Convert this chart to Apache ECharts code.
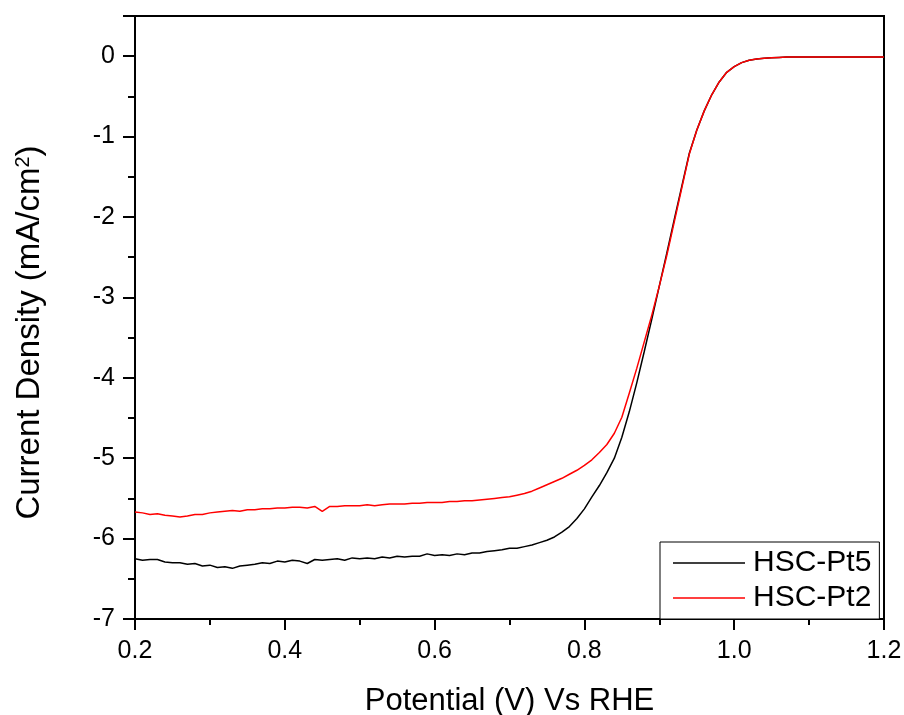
<!DOCTYPE html>
<html>
<head>
<meta charset="utf-8">
<script src="https://cdn.jsdelivr.net/npm/echarts@6/dist/echarts.min.js"></script>
<style>
  html, body { margin: 0; padding: 0; background: #fff; }
  #lsv { width: 904px; height: 715px; }
</style>
</head>
<body>
<div id="lsv"></div>
<script>
// potential (V vs RHE)
var potential = [
    0.20, 0.21, 0.22, 0.23, 0.24, 0.25, 0.26, 0.27, 0.28, 0.29,
    0.30, 0.31, 0.32, 0.33, 0.34, 0.35, 0.36, 0.37, 0.38, 0.39,
    0.40, 0.41, 0.42, 0.43, 0.44, 0.45, 0.46, 0.47, 0.48, 0.49,
    0.50, 0.51, 0.52, 0.53, 0.54, 0.55, 0.56, 0.57, 0.58, 0.59,
    0.60, 0.61, 0.62, 0.63, 0.64, 0.65, 0.66, 0.67, 0.68, 0.69,
    0.70, 0.71, 0.72, 0.73, 0.74, 0.75, 0.76, 0.77, 0.78, 0.79,
    0.80, 0.81, 0.82, 0.83, 0.84, 0.85, 0.86, 0.87, 0.88, 0.89,
    0.90, 0.91, 0.92, 0.93, 0.94, 0.95, 0.96, 0.97, 0.98, 0.99,
    1.00, 1.01, 1.02, 1.03, 1.04, 1.05, 1.06, 1.07, 1.08, 1.09,
    1.10, 1.11, 1.12, 1.13, 1.14, 1.15, 1.16, 1.17, 1.18, 1.19,
    1.20
];

// current density (mA/cm2)
var pt5 = [
    -6.25, -6.27, -6.26, -6.26, -6.29, -6.30, -6.30, -6.32, -6.31, -6.34,
    -6.33, -6.36, -6.35, -6.37, -6.34, -6.33, -6.32, -6.30, -6.31, -6.28,
    -6.29, -6.27, -6.28, -6.31, -6.26, -6.27, -6.26, -6.25, -6.27, -6.24,
    -6.25, -6.24, -6.25, -6.23, -6.24, -6.22, -6.23, -6.22, -6.22, -6.19,
    -6.21, -6.20, -6.21, -6.19, -6.20, -6.18, -6.18, -6.16, -6.15, -6.14,
    -6.12, -6.12, -6.10, -6.08, -6.05, -6.02, -5.98, -5.92, -5.85, -5.75,
    -5.63, -5.48, -5.34, -5.18, -5.00, -4.74, -4.42, -4.06, -3.67, -3.27,
    -2.86, -2.45, -2.03, -1.62, -1.21, -0.92, -0.68, -0.48, -0.32, -0.20,
    -0.13, -0.08, -0.05, -0.035, -0.025, -0.02, -0.015, -0.01, -0.01, -0.01,
    -0.01, -0.01, -0.01, -0.01, -0.01, -0.01, -0.01, -0.01, -0.01, -0.01,
    -0.01
];

var pt2 = [
    -5.67, -5.68, -5.70, -5.69, -5.71, -5.72, -5.73, -5.72, -5.70, -5.70,
    -5.68, -5.67, -5.66, -5.65, -5.66, -5.64, -5.64, -5.63, -5.63, -5.62,
    -5.62, -5.61, -5.61, -5.62, -5.60, -5.66, -5.60, -5.60, -5.59, -5.59,
    -5.59, -5.58, -5.59, -5.58, -5.57, -5.57, -5.57, -5.56, -5.56, -5.55,
    -5.55, -5.55, -5.54, -5.54, -5.53, -5.53, -5.52, -5.51, -5.50, -5.49,
    -5.48, -5.46, -5.44, -5.41, -5.37, -5.33, -5.29, -5.25, -5.20, -5.15,
    -5.09, -5.02, -4.93, -4.83, -4.69, -4.49, -4.19, -3.88, -3.55, -3.22,
    -2.86, -2.48, -2.06, -1.64, -1.22, -0.92, -0.68, -0.48, -0.32, -0.20,
    -0.13, -0.08, -0.05, -0.035, -0.025, -0.02, -0.015, -0.01, -0.01, -0.01,
    -0.01, -0.01, -0.01, -0.01, -0.01, -0.01, -0.01, -0.01, -0.01, -0.01,
    -0.01
];

var seriesNames = ['HSC-Pt5', 'HSC-Pt2'];

function pairs(ys) {
    var out = [];
    for (var i = 0; i < potential.length; i++) {
        out.push([potential[i], ys[i]]);
    }
    return out;
}

var font = '"Liberation Sans", Arial, sans-serif';
var myChart = echarts.init(document.getElementById('lsv'));

var option = {
    backgroundColor: '#fff',
    animation: false,
    grid: {
        left: 135, right: 20, top: 16, bottom: 96,
        outerBoundsMode: 'none',
        containLabel: false,
        show: true, borderColor: '#000', borderWidth: 2
    },
    legend: {
        left: 660, top: 542,
        orient: 'vertical',
        data: seriesNames,
        icon: 'rect',
        backgroundColor: '#fff',
        borderColor: '#000', borderWidth: 1,
        padding: [6, 8, 6, 13],
        itemWidth: 72, itemHeight: 1.5, itemGap: 5,
        textStyle: { fontFamily: font, fontSize: 30, color: '#000', padding: [0, 0, 0, 3] }
    },
    xAxis: {
        type: 'value',
        min: 0.2, max: 1.2, interval: 0.2,
        name: 'Potential (V) Vs RHE',
        nameLocation: 'middle',
        nameGap: 67,
        nameTextStyle: { fontFamily: font, fontSize: 31, color: '#000' },
        axisLine: { onZero: false, lineStyle: { color: '#000', width: 2 } },
        axisTick: { inside: false, length: 11, lineStyle: { color: '#000', width: 2 } },
        minorTick: { show: true, splitNumber: 2, length: 6, lineStyle: { color: '#000', width: 2 } },
        splitLine: { show: false },
        axisLabel: {
            margin: 20, fontFamily: font, fontSize: 25, color: '#000',
            formatter: function (v) { return v.toFixed(1); }
        }
    },
    yAxis: {
        type: 'value',
        min: -7, max: 0.5, interval: 1,
        name: '{a|Current Density (mA/cm}{s|2}{a|)}',
        nameLocation: 'middle',
        nameGap: 88,
        nameTextStyle: {
            padding: [0, 30, 0, 0],
            rich: {
                a: { fontFamily: font, fontSize: 33, color: '#000' },
                s: { fontFamily: font, fontSize: 20, color: '#000', verticalAlign: 'top', padding: [0, 0, 14, 0] }
            }
        },
        axisLine: { onZero: false, lineStyle: { color: '#000', width: 2 } },
        axisTick: { inside: false, length: 12, lineStyle: { color: '#000', width: 2 } },
        minorTick: { show: true, splitNumber: 2, length: 7, lineStyle: { color: '#000', width: 2 } },
        splitLine: { show: false },
        axisLabel: {
            margin: 20, fontFamily: font, fontSize: 25, color: '#000',
            showMaxLabel: false
        }
    },
    series: [{
        name: seriesNames[0],
        type: 'line',
        symbol: 'none',
        data: pairs(pt5),
        lineStyle: { color: '#000', width: 1.5 },
        itemStyle: { color: '#000' }
    }, {
        name: seriesNames[1],
        type: 'line',
        symbol: 'none',
        data: pairs(pt2),
        lineStyle: { color: '#ff0000', width: 1.5 },
        itemStyle: { color: '#ff0000' }
    }]
};
myChart.setOption(option);
</script>
</body>
</html>
